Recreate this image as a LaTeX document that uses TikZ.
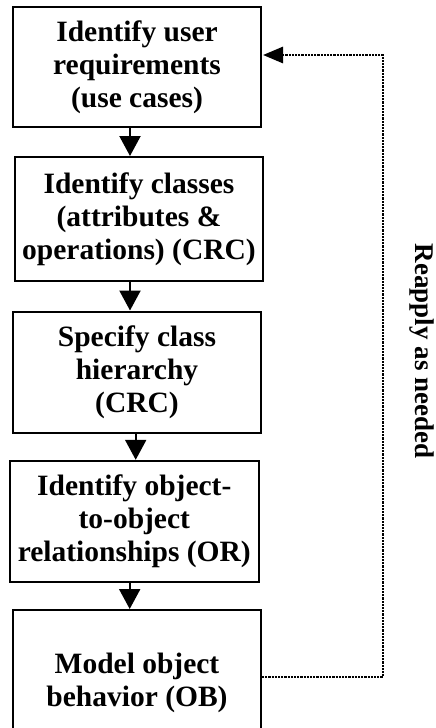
\documentclass[tikz,border=0pt]{standalone}
\usepackage{fontspec}
\setmainfont{Liberation Serif}
\usetikzlibrary{arrows.meta}
\begin{document}
\begin{tikzpicture}[x=1pt,y=-1pt,
  stepbox/.style={draw, line width=2pt, rectangle, inner sep=0pt, align=center,
    minimum width=248pt, font=\bfseries\fontsize{29.5}{33}\selectfont},
  arr/.style={line width=2.2pt, -{Triangle[length=20pt,width=21pt]}},
  dotline/.style={line width=2.8pt, dash pattern=on 2.2pt off 1pt, -{Triangle[length=20pt,width=16pt]}}]
\useasboundingbox (0,0) rectangle (436,728);
\clip (0,0) rectangle (436,728);
\node[stepbox, minimum height=120pt] (b1) at (137,67) {Identify user\\requirements\\(use cases)};
\node[stepbox, minimum height=124pt] (b2) at (139,219) {Identify classes\\(attributes \&\\operations) (CRC)};
\node[stepbox, minimum height=121pt] (b3) at (137,372) {Specify class\\hierarchy\\(CRC)};
\node[stepbox, minimum height=121pt, minimum width=249pt] (b4) at (134.3,521.3) {Identify object-\\to-object\\relationships (OR)};
\node[stepbox, minimum height=146pt] (b5) at (137,683) {Model object\\behavior (OB)};
\draw[arr] ([xshift=-7pt]b1.south) -- ([xshift=-9pt]b2.north);
\draw[arr] ([xshift=-9pt]b2.south) -- ([xshift=-7pt]b3.north);
\draw[arr] ([xshift=-1.3pt]b3.south) -- ([xshift=1.4pt]b4.north);
\draw[arr] ([xshift=-4.6pt]b4.south) -- ([xshift=-7.3pt]b5.north);
\coordinate (c2) at (383,55);
\draw[dotline] ([yshift=6pt]b5.east) -| (c2) -- ([yshift=12pt,xshift=1pt]b1.east);
\node[rotate=-90, font=\bfseries\fontsize{27}{30}\selectfont] (lbl) at (422,351) {Reapply as needed};
\end{tikzpicture}
\end{document}
